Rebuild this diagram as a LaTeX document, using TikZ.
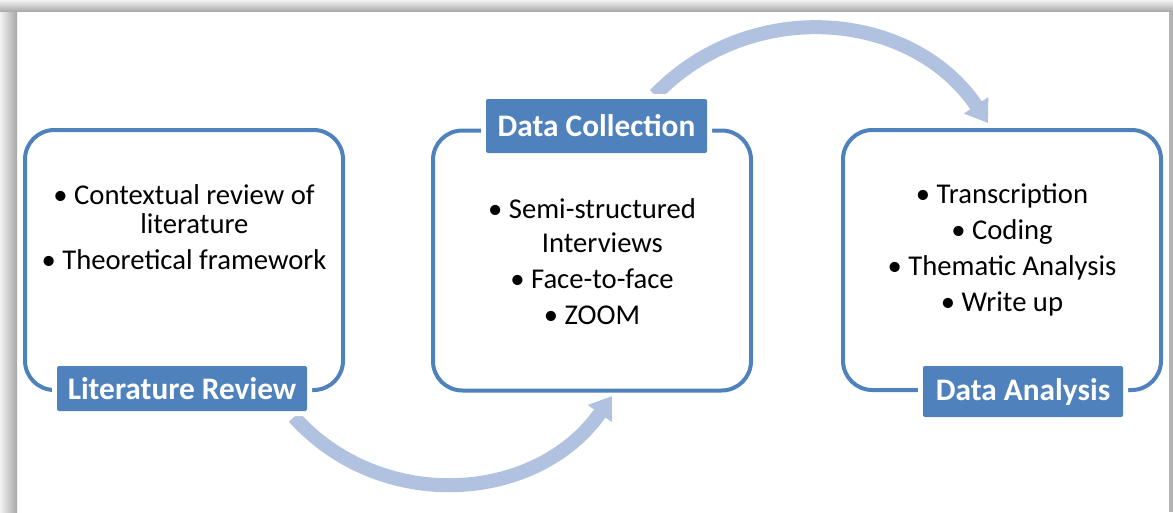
\documentclass[tikz,border=0pt]{standalone}
\usepackage{fontspec}
\setmainfont{Carlito}
\usetikzlibrary{arrows.meta,positioning}
\definecolor{boxblue}{HTML}{4F81BD}
\definecolor{flowblue}{HTML}{B0C2DF}
\newcommand{\bulletgap}{\hphantom{\textbullet\ }}

\begin{document}
\begin{tikzpicture}[x=0.75pt,y=0.75pt]%
        \tikzset{%
            stage/.style={draw=boxblue, line width=3pt, rounded corners=22pt,
                minimum width=238.5pt, minimum height=195pt, inner sep=0pt},
            tag/.style={fill=boxblue, text=white, rounded corners=1.5pt, inner sep=0pt,
                font=\fontsize{23.5}{28}\selectfont\bfseries,
                preaction={draw=white, line width=7.5pt}},
            items/.style={anchor=north, align=center, inner sep=0pt,
                font=\fontsize{21.5}{27}\selectfont},
            flow/.style={draw=flowblue, line width=10.5pt,
                -{Triangle[width=21pt,length=16pt]}},
        }%
        \useasboundingbox (0,0) rectangle (1173,512);
        % shadow of the frame
        \shade[left color=gray!10, right color=gray!70] (0,0) rectangle (17,512);
        \shade[top color=gray!10, bottom color=gray!70] (0,500) rectangle (1173,512);
        \fill[gray!60] (1169,0) rectangle (1173,500);
        % the three stages
        \node[stage] (litbox) at (184,252) {};
        \node[stage] (colbox) at (592,251.5) {};
        \node[stage] (anabox) at (1002,252) {};
        \node[items] (litlist) at (184,328) {\textbullet\ Contextual review of\\[-5pt]\bulletgap literature\\\textbullet\ Theoretical framework};
        \node[items] (collist) at (592,314) {\textbullet\ Semi-structured\\[-1pt]\bulletgap Interviews\\\textbullet\ Face-to-face\\\textbullet\ ZOOM};
        \node[items] (analist) at (1002,329) {\textbullet\ Transcription\\\textbullet\ Coding\\\textbullet\ Thematic Analysis\\\textbullet\ Write up};
        % arrows between the stages
        \coordinate (a1s) at (294,95);
        \coordinate (a1e) at (612,116);
        \coordinate (a2s) at (655,417);
        \coordinate (a2e) at (988,389);
        \draw[flow] (a1s) to[out=-48, in=235, looseness=1.05] (a1e);
        \draw[flow] (a2s) to[out=46, in=124, looseness=1.05] (a2e);
        % titles on the stages
        \node[tag, minimum width=187.5pt, minimum height=33.75pt] (littag) at (182,123.5) {Literature Review};
        \node[tag, minimum width=165.75pt, minimum height=40.5pt] (coltag) at (596.5,386) {Data Collection};
        \node[tag, minimum width=150pt, minimum height=38.25pt] (anatag) at (1023,120.5) {Data Analysis};
    \end{tikzpicture}
\end{document}
